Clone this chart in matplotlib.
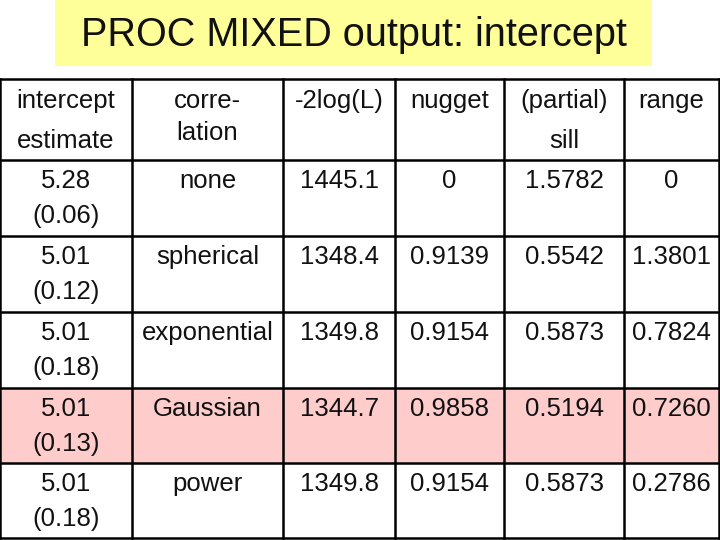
import matplotlib
matplotlib.use('Agg')
import matplotlib.pyplot as plt
from matplotlib.patches import Rectangle

plt.rcParams['font.family'] = ['Liberation Sans', 'DejaVu Sans']

title = "PROC MIXED output: intercept"
headers = [("intercept", "estimate"), ("corre-\nlation", None), ("-2log(L)", None),
           ("nugget", None), ("(partial)", "sill"), ("range", None)]
estimates = ["5.28", "5.01", "5.01", "5.01", "5.01"]
std_errors = ["(0.06)", "(0.12)", "(0.18)", "(0.13)", "(0.18)"]
correlations = ["none", "spherical", "exponential", "Gaussian", "power"]
loglik = ["1445.1", "1348.4", "1349.8", "1344.7", "1349.8"]
nuggets = ["0", "0.9139", "0.9154", "0.9858", "0.9154"]
sills = ["1.5782", "0.5542", "0.5873", "0.5194", "0.5873"]
ranges = ["0", "1.3801", "0.7824", "0.7260", "0.2786"]
highlight_row = 3

col_edges = [0, 132, 283, 395, 504, 624, 719]
row_edges = [79, 160, 236, 312, 388, 463, 538]

fig = plt.figure(figsize=(7.2, 5.4), dpi=100)
ax = fig.add_axes([0, 0, 1, 1])
ax.set_xlim(0, 720)
ax.set_ylim(540, 0)
ax.axis('off')

# title box
ax.add_patch(Rectangle((55, 0), 597, 66, facecolor='#ffff99', edgecolor='none'))
ax.text(354, 35, title, ha='center', va='center', fontsize=28.5, color='#111111')

# highlighted row
r0, r1 = row_edges[highlight_row + 1], row_edges[highlight_row + 2]
ax.add_patch(Rectangle((0, r0), 720, r1 - r0, facecolor='#ffcccc', edgecolor='none'))

# grid
for x in col_edges:
    ax.plot([x, x], [row_edges[0], row_edges[-1]], color='black', lw=1.8)
for y in row_edges:
    ax.plot([col_edges[0], col_edges[-1]], [y, y], color='black', lw=1.8)

fs = 18.5
tc = '#111111'
centers = [(col_edges[i] + col_edges[i + 1]) / 2 for i in range(6)]

# header
for i, (a, b) in enumerate(headers):
    if '\n' in a:
        l1, l2 = a.split('\n')
        ax.text(centers[i], 101, l1, ha='center', va='center', fontsize=fs, color=tc)
        ax.text(centers[i], 133, l2, ha='center', va='center', fontsize=fs, color=tc)
    else:
        ax.text(centers[i], 101, a, ha='center', va='center', fontsize=fs, color=tc)
        if b:
            ax.text(centers[i], 141, b, ha='center', va='center', fontsize=fs, color=tc)

cols = [estimates, correlations, loglik, nuggets, sills, ranges]
for r in range(5):
    top = row_edges[r + 1]
    for c, vals in enumerate(cols):
        ax.text(centers[c], top + 21, vals[r], ha='center', va='center', fontsize=fs, color=tc)
    ax.text(centers[0], top + 56, std_errors[r], ha='center', va='center', fontsize=fs, color=tc)

fig.savefig('out.png', dpi=100)
